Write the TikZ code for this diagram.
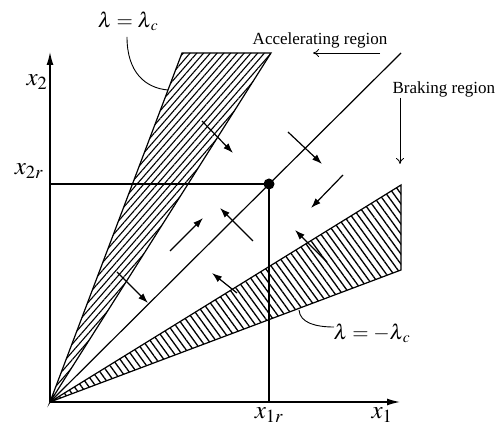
\documentclass[tikz,border=0pt]{standalone}
\usepackage{mathptmx}
\usepackage{fontspec}
\setmainfont{Liberation Serif}
\usetikzlibrary{arrows.meta,patterns.meta}
\begin{document}
\begin{tikzpicture}[x=1pt,y=-1pt,line width=1.2pt,
  mathlbl/.style={inner sep=0pt,font=\fontsize{25}{25}\selectfont},
  lamlbl/.style={inner sep=0pt,font=\fontsize{21}{21}\selectfont},
  txtlbl/.style={inner sep=0pt,font=\fontsize{17}{17}\selectfont},
  axis/.style={line width=1.4pt,-{Latex[length=13pt,width=7pt]}},
  flow/.style={line width=1.2pt,-{Latex[length=10pt,width=7pt]}},
  region/.style={line width=0.8pt,-{To[length=6pt,width=8pt]}},
  pointer/.style={line width=0.9pt}]
\useasboundingbox (0,0) rectangle (501,435);
% key points
\coordinate (O) at (50,402);
\coordinate (Yend) at (50,52);
\coordinate (Xend) at (400,402);
\coordinate (UL) at (182,53);
\coordinate (UR) at (271,53);
\coordinate (D) at (401,53);
\coordinate (LT) at (401,185);
\coordinate (LB) at (401,270);
\coordinate (R) at (269,184);
% hatched regions
\fill[pattern={Lines[angle=49,distance=5.1pt,line width=1.1pt]}] (O) -- (UL) -- (UR) -- cycle;
\draw (O) -- (UL) -- (UR) -- cycle;
\fill[pattern={Lines[angle=-54,distance=5.9pt,line width=1.3pt]}] (O) -- (LT) -- (LB) -- cycle;
\draw (O) -- (LT) -- (LB) -- cycle;
% diagonal
\draw (O) -- (D);
% axes
\draw[axis] (O) -- (Yend);
\draw[axis] (O) -- (Xend);
% reference lines and point
\draw (O |- R) -- (R) -- (R |- O);
\fill (R) circle (5.5pt);
% labels
\node[lamlbl] (lc) at (128,21) {$\lambda=\lambda_{\mkern2mu c}$};
\node[lamlbl] (mlc) at (372,333) {$\lambda=-\lambda_{\mkern2mu c}$};
\node[txtlbl] (acc) at (320,40) {Accelerating region};
\node[txtlbl,anchor=west] (brk) at (392,89) {Braking region};
\node[mathlbl] (x2) at (37,82) {$x_2$};
\node[mathlbl] (x2r) at (29,171) {$x_{2r}$};
\node[mathlbl] (x1r) at (269,415) {$x_{1r}$};
\node[mathlbl] (x1) at (382,415) {$x_1$};
% pointers
\coordinate (lcA) at (127,37);
\coordinate (lcB) at (168,90);
\draw[pointer] (lcA) .. controls (127,72) and (145,88) .. (lcB);
\coordinate (mlcA) at (334,327);
\coordinate (mlcB) at (299,310);
\draw[pointer] (mlcA) .. controls (316,327) and (300,323) .. (mlcB);
% region arrows
\coordinate (accA) at (380,53);
\coordinate (accB) at (313,53);
\draw[region] (accA) -- (accB);
\coordinate (brkA) at (400,98);
\coordinate (brkB) at (400,164);
\draw[region] (brkA) -- (brkB);
% flow arrows
\coordinate (a1) at (202,121); \coordinate (b1) at (233,153);
\coordinate (a2) at (288,132); \coordinate (b2) at (322,164);
\coordinate (a3) at (343,175); \coordinate (b3) at (311,208);
\coordinate (a4) at (170,251); \coordinate (b4) at (203,218);
\coordinate (a5) at (253,241); \coordinate (b5) at (220,208);
\coordinate (a6) at (117,272); \coordinate (b6) at (148,303);
\coordinate (a7) at (237,293); \coordinate (b7) at (212,273);
\coordinate (a8) at (327,262); \coordinate (b8) at (295,230);
\foreach \i in {1,...,8} {\draw[flow] (a\i) -- (b\i);}
\end{tikzpicture}
\end{document}
